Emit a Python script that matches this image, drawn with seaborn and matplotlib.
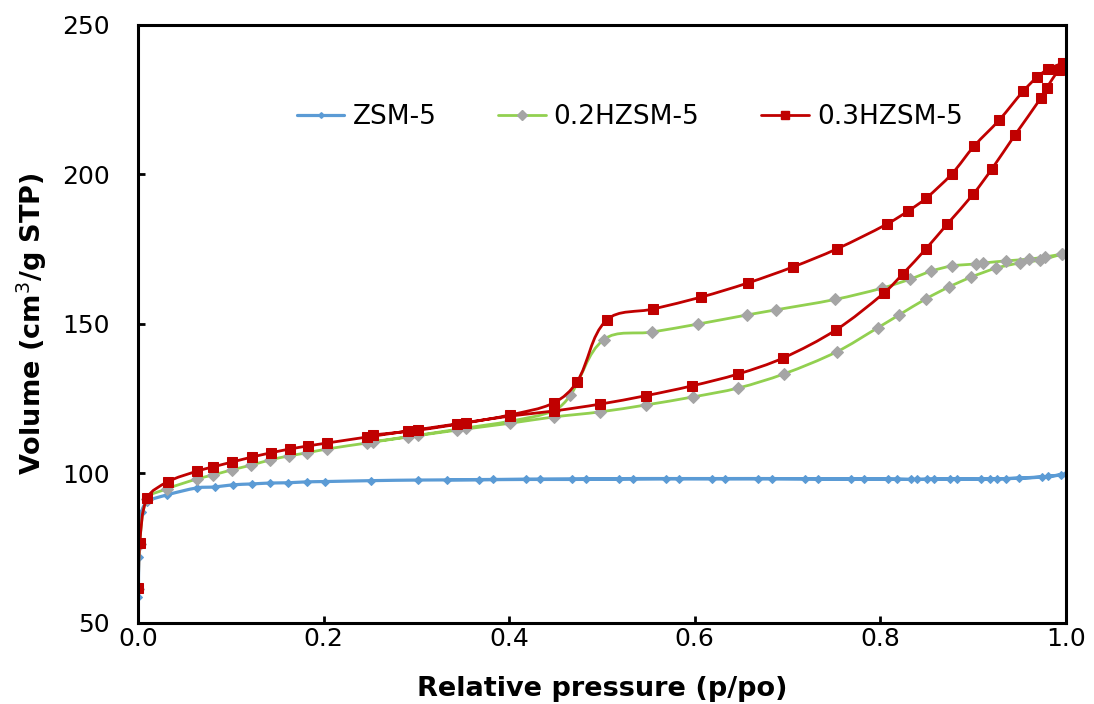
import numpy as np
import pandas as pd
import matplotlib
matplotlib.use("Agg")
import matplotlib.pyplot as plt
from matplotlib.path import Path
from matplotlib.patches import PathPatch
from matplotlib.lines import Line2D
import seaborn as sns

# N2 adsorption-desorption isotherms: relative pressure vs adsorbed volume
# ZSM-5
zsm5_ads_p = [0.0, 0.0005, 0.001, 0.004, 0.01, 0.031, 0.064, 0.083, 0.102, 0.123, 0.142,
              0.162, 0.182, 0.202, 0.251, 0.302, 0.368, 0.418, 0.468, 0.518, 0.569, 0.619,
              0.668, 0.719, 0.768, 0.808, 0.833, 0.850, 0.875, 0.908, 0.926, 0.949, 0.974, 0.995]
zsm5_ads_v = [45.0, 58.7, 72.0, 87.0, 90.5, 92.8, 95.2, 95.5, 96.2, 96.5, 96.8,
              96.9, 97.2, 97.3, 97.6, 97.8, 97.9, 98.0, 98.0, 98.1, 98.2, 98.2,
              98.2, 98.2, 98.1, 98.1, 98.0, 98.1, 98.1, 98.1, 98.2, 98.4, 98.8, 99.6]
zsm5_des_p = [1.0, 0.981, 0.935, 0.918, 0.883, 0.858, 0.839, 0.818, 0.782, 0.733, 0.683,
              0.633, 0.583, 0.533, 0.483, 0.433, 0.383, 0.333]
zsm5_des_v = [99.8, 99.0, 98.3, 98.1, 98.2, 98.1, 98.0, 98.1, 98.2, 98.2, 98.3,
              98.3, 98.3, 98.3, 98.2, 98.1, 98.0, 97.9]

# 0.2HZSM-5
h02_ads_p = [0.0, 0.0005, 0.002, 0.01, 0.031, 0.064, 0.081, 0.101, 0.122, 0.142, 0.163,
             0.182, 0.204, 0.247, 0.291, 0.344, 0.401, 0.448, 0.498, 0.547, 0.598, 0.647,
             0.696, 0.753, 0.797, 0.820, 0.849, 0.874, 0.898, 0.925, 0.950, 0.972, 0.996]
h02_ads_v = [45.0, 61.5, 76.5, 91.5, 94.8, 98.2, 99.5, 101.2, 102.8, 104.5, 105.9,
             106.9, 108.2, 110.2, 112.2, 114.5, 116.8, 118.9, 120.6, 122.9, 125.6, 128.6,
             133.3, 140.7, 148.7, 153.0, 158.4, 162.4, 165.7, 168.7, 170.4, 171.4, 173.4]
h02_des_p = [0.996, 0.977, 0.960, 0.935, 0.911, 0.903, 0.877, 0.855, 0.832, 0.802, 0.751,
             0.687, 0.656, 0.604, 0.554, 0.502, 0.466, 0.448, 0.401, 0.353, 0.302, 0.253]
h02_des_v = [173.4, 172.4, 171.7, 171.1, 170.4, 170.1, 169.4, 167.7, 165.0, 162.0, 158.2,
             154.7, 153.0, 150.0, 147.3, 144.8, 126.2, 121.0, 117.5, 115.2, 112.8, 110.6]

# 0.3HZSM-5
h03_ads_p = [0.0, 0.0005, 0.002, 0.01, 0.032, 0.064, 0.081, 0.101, 0.123, 0.143, 0.164,
             0.183, 0.204, 0.247, 0.291, 0.344, 0.401, 0.448, 0.498, 0.547, 0.597, 0.647,
             0.695, 0.752, 0.804, 0.824, 0.849, 0.872, 0.900, 0.920, 0.945, 0.973, 0.979,
             0.992, 0.997]
h03_ads_v = [45.0, 61.7, 76.8, 91.8, 97.2, 100.8, 102.2, 103.8, 105.5, 106.9, 108.2,
             109.2, 110.2, 112.2, 114.2, 116.6, 119.2, 120.9, 123.2, 126.0, 129.3, 133.3,
             138.6, 148.0, 160.4, 166.7, 175.1, 183.4, 193.4, 201.8, 213.2, 225.6, 228.9,
             235.0, 237.3]
h03_des_p = [0.997, 0.981, 0.969, 0.954, 0.928, 0.901, 0.877, 0.849, 0.830, 0.807, 0.753,
             0.706, 0.657, 0.607, 0.555, 0.505, 0.473, 0.448, 0.401, 0.353, 0.302, 0.253]
h03_des_v = [237.3, 235.3, 232.6, 227.9, 218.2, 209.5, 200.2, 192.0, 187.8, 183.4, 175.1,
             169.1, 163.7, 159.0, 155.0, 151.3, 130.6, 123.6, 119.6, 116.9, 114.5, 112.9]

series_names = ["ZSM-5", "0.2HZSM-5", "0.3HZSM-5"]
x_ticks = [0.0, 0.2, 0.4, 0.6, 0.8, 1.0]
y_ticks = [50, 100, 150, 200, 250]

sns.set_style("white")
plt.rcParams["font.family"] = ["DejaVu Sans"]
plt.rcParams.update({"text.color": "black", "axes.labelcolor": "black",
                     "xtick.color": "black", "ytick.color": "black"})


def smooth_path(ax, px, py):
    """Cubic Bezier curve through the points, built in screen space so the
    smoothing follows the on-screen shape; tangent handles are scaled by each
    segment's own length to avoid overshoot where point spacing is uneven."""
    pts = ax.transData.transform(np.column_stack([px, py]).astype(float))
    n = len(pts)

    def tangent(i):
        a = pts[max(i - 1, 0)]
        b = pts[min(i + 1, n - 1)]
        d = b - a
        L = np.hypot(*d)
        return d / L if L > 0 else np.zeros(2)

    verts = [pts[0]]
    codes = [Path.MOVETO]
    for i in range(n - 1):
        p1, p2 = pts[i], pts[i + 1]
        seg = np.hypot(*(p2 - p1))
        c1 = p1 + tangent(i) * seg / 3.0
        c2 = p2 - tangent(i + 1) * seg / 3.0
        verts += [c1, c2, p2]
        codes += [Path.CURVE4] * 3
    verts = ax.transData.inverted().transform(np.array(verts))
    return Path(verts, codes)


fig = plt.figure(figsize=(10.94, 7.04), dpi=100)
ax = fig.add_axes([0.1261, 0.1151, 0.8483, 0.8494])
ax.set_xlim(0, 1.0)
ax.set_ylim(50, 250)

styles = [
    dict(color="#5B9BD5", marker="D", markersize=3.6, markerfacecolor="#5B9BD5",
         markeredgecolor="#5B9BD5", linewidth=2.3),
    dict(color="#92D050", marker="D", markersize=6.5, markerfacecolor="#A5A5A5",
         markeredgecolor="#A5A5A5", linewidth=2.0),
    dict(color="#C00000", marker="s", markersize=6.8, markerfacecolor="#C00000",
         markeredgecolor="#C00000", linewidth=2.0),
]
curves = [
    (zsm5_ads_p + zsm5_des_p, zsm5_ads_v + zsm5_des_v),
    (h02_ads_p + h02_des_p, h02_ads_v + h02_des_v),
    (h03_ads_p + h03_des_p, h03_ads_v + h03_des_v),
]

handles = []
for k, (name, (p, v), st) in enumerate(zip(series_names, curves, styles)):
    df = pd.DataFrame({"p": p, "v": v})
    # markers from seaborn, connecting line drawn as a smooth curve underneath
    sns.lineplot(data=df, x="p", y="v", sort=False, estimator=None, ax=ax,
                 legend=False, zorder=3 + 2 * k + 1,
                 **{**st, "linestyle": "none"})
    handles.append(Line2D([], [], linestyle="-", **st))

ax.set_xlim(0, 1.0)
ax.set_ylim(50, 250)

for k, ((p, v), st) in enumerate(zip(curves, styles)):
    curve = PathPatch(smooth_path(ax, p, v), facecolor="none",
                      edgecolor=st["color"], linewidth=st["linewidth"],
                      capstyle="round", joinstyle="round", zorder=3 + 2 * k)
    ax.add_patch(curve)

ax.set_xticks(x_ticks)
ax.set_xticklabels([f"{t:.1f}" for t in x_ticks])
ax.set_yticks(y_ticks)
ax.set_yticklabels([str(t) for t in y_ticks])

for sp in ax.spines.values():
    sp.set_visible(True)
    sp.set_color("black")
    sp.set_linewidth(2.2)
    sp.set_zorder(10)

ax.tick_params(axis="x", direction="in", length=5, width=2, pad=3, labelsize=18,
               bottom=True, top=False)
ax.tick_params(axis="y", direction="in", length=5, width=2, pad=20, labelsize=18,
               left=True, right=False)

ax.set_xlabel("Relative pressure (p/po)", fontsize=19.5, fontweight="bold", labelpad=18)
ax.set_ylabel("Volume (cm$^3$/g STP)", fontsize=19.5, fontweight="bold", labelpad=10)

ax.legend(handles, series_names, loc="center", bbox_to_anchor=(0.53, 0.846), ncol=3,
          frameon=False, fontsize=19, handlelength=1.8, handletextpad=0.3,
          columnspacing=2.35, markerscale=0.8)

fig.savefig("out.png", dpi=100)
